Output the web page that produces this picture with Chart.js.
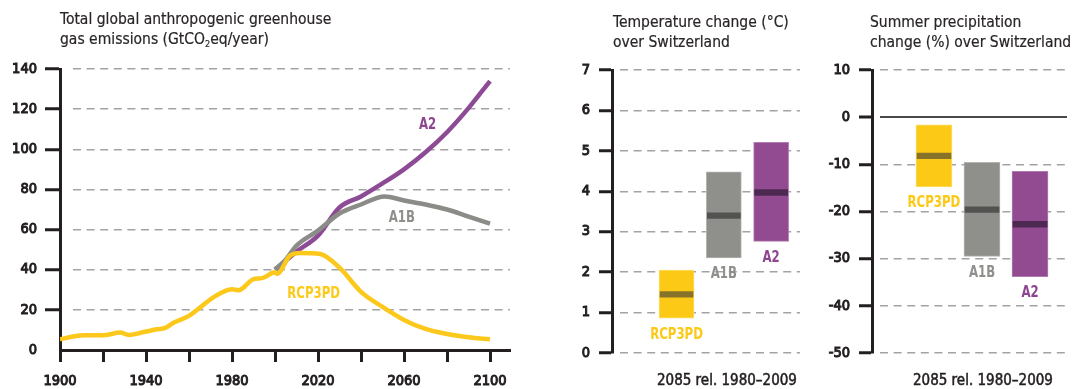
<!DOCTYPE html>
<html>
<head>
<meta charset="utf-8">
<script src="https://cdn.jsdelivr.net/npm/chart.js@4.4.1/dist/chart.umd.min.js"></script>
<style>
  html, body { margin: 0; padding: 0; background: #fff; }
  #wrap { position: relative; width: 1074px; height: 389px; overflow: hidden;
          font-family: "DejaVu Sans Condensed", "DejaVu Sans", sans-serif; color: #2a2627; }
  .panel { position: absolute; top: 0; height: 389px; }
  .title { position: absolute; font-size: 15.5px; line-height: 20px; white-space: nowrap; -webkit-text-stroke: 0.2px #2a2627; }
  .title sub { font-size: 9px; vertical-align: -3px; line-height: 0; }
  .caption { position: absolute; font-size: 15px; line-height: 16px; white-space: nowrap; -webkit-text-stroke: 0.5px #231f20; color: #231f20; }
</style>
</head>
<body>
<div id="wrap">
  <div class="panel" style="left:0;width:520px"><canvas id="emissionsChart"></canvas></div>
  <div class="panel" style="left:540px;width:270px"><canvas id="temperatureChart"></canvas></div>
  <div class="panel" style="left:810px;width:264px"><canvas id="precipChart"></canvas></div>

  <div class="title" style="left:60px;top:9px">Total global anthropogenic greenhouse<br>gas emissions (GtCO<sub>2</sub>eq/year)</div>
  <div class="title" style="left:613px;top:12px">Temperature change (°C)<br>over Switzerland</div>
  <div class="title" style="left:870px;top:12px">Summer precipitation<br>change (%) over Switzerland</div>
  <div class="caption" style="left:657px;top:372px">2085 rel. 1980–2009</div>
  <div class="caption" style="left:913px;top:372px">2085 rel. 1980–2009</div>
</div>

<script>
// emission pathways, GtCO2eq per year
const rcpYears = [1900, 1906, 1912, 1920, 1928, 1932, 1940, 1945, 1949, 1953, 1960, 1965, 1971, 1980, 1983,
  1990, 1994, 2000, 2001, 2007, 2012, 2021, 2030, 2040, 2050, 2060, 2070, 2080, 2090, 2100];
const rcpValues = [5.3, 6.7, 7.3, 7.3, 8.7, 7.5, 9.2, 10.3, 11, 13.7, 17, 21, 26, 30.3, 29.8,
  35.3, 35.8, 38.7, 38, 47, 48.3, 47.8, 41, 29, 21.5, 15, 10.5, 8, 6.3, 5.3];
const a1bYears = [2000, 2005, 2010, 2020, 2030, 2040, 2051, 2060, 2070, 2080, 2090, 2100];
const a1bValues = [40, 45, 52, 59.5, 68, 72.5, 76.5, 74.5, 72.5, 70, 66.5, 63];
const a2Years = [2000, 2010, 2020, 2030, 2040, 2050, 2060, 2070, 2080, 2090, 2100];
const a2Values = [40, 49, 57, 71, 76.5, 83, 90, 98.5, 108.5, 120.5, 134];
const yearTicks = [1900, 1920, 1940, 1960, 1980, 2000, 2020, 2040, 2060, 2080, 2100];

// Swiss projections for 2085 (low, high, median per scenario)
const scenarios = ["RCP3PD", "A1B", "A2"];
const tempLow = [0.86, 2.35, 2.76];
const tempHigh = [2.05, 4.48, 5.21];
const tempMedian = [1.45, 3.4, 3.97];
const precipLow = [-14.8, -29.5, -33.8];
const precipHigh = [-1.6, -9.6, -11.5];
const precipMedian = [-8.2, -19.6, -22.7];

const ink = "#231f20";
const gridGray = "#a3a3a3";
const scenarioColors = ["#fcca16", "#8f908c", "#924b91"];
const edgeColors = ["#fddc6a", "#b3b4b0", "#b17db0"];
const medianColors = ["#87722a", "#525350", "#4d2952"];
const labelColors = ["#fcc917", "#8f908c", "#8e4690"];
const fontFamily = '"DejaVu Sans Condensed", "DejaVu Sans", sans-serif';
const tickFont = { family: fontFamily, size: 14.5 };
const tickStroke = { color: ink, textStrokeColor: ink, textStrokeWidth: 1 };

// line labels placed in data units
const lineLabels = [
  { text: "A2", year: 2071, value: 112, color: labelColors[2] },
  { text: "A1B", year: 2059, value: 65.5, color: labelColors[1] },
  { text: "RCP3PD", year: 2018, value: 28, color: labelColors[0] },
];

function dashFrom(gap) {
  const pattern = [0, gap];
  for (let i = 0; i < 40; i++) pattern.push(8, 5.6);
  return pattern;
}

function toPoints(years, values) {
  return years.map((year, i) => ({ x: year, y: values[i] }));
}

// narrow bold label text
function drawLabel(ctx, text, x, y, color) {
  ctx.save();
  ctx.translate(x, y);
  ctx.scale(0.87, 1);
  ctx.fillStyle = color;
  ctx.fillText(text, 0, 0);
  ctx.restore();
}

const lineLabelPlugin = {
  id: "lineLabels",
  afterDatasetsDraw(chart) {
    const { ctx, scales } = chart;
    ctx.save();
    ctx.font = `bold 15px ${fontFamily}`;
    ctx.textAlign = "center";
    ctx.textBaseline = "middle";
    lineLabels.forEach((label) => {
      drawLabel(ctx, label.text, scales.x.getPixelForValue(label.year), scales.y.getPixelForValue(label.value), label.color);
    });
    ctx.restore();
  },
};

// scenario names under each range bar
const barLabelPlugin = {
  id: "barLabels",
  afterDatasetsDraw(chart, args, opts) {
    const { ctx, scales } = chart;
    ctx.save();
    ctx.font = `bold 15px ${fontFamily}`;
    ctx.textAlign = "center";
    ctx.textBaseline = "top";
    scenarios.forEach((name, i) => {
      drawLabel(ctx, name, scales.x.getPixelForValue(i + 1), scales.y.getPixelForValue(opts.low[i]) + 9, labelColors[i]);
    });
    ctx.restore();
  },
};

function buildEmissionsChart() {
  const lineStyle = (color) => ({
    borderColor: color,
    borderWidth: 4.5,
    pointRadius: 0,
    fill: false,
    cubicInterpolationMode: "monotone",
  });

  return new Chart(document.getElementById("emissionsChart"), {
    type: "line",
    data: {
      datasets: [
        { label: "RCP3PD", data: toPoints(rcpYears, rcpValues), ...lineStyle("#fbc81b") },
        { label: "A1B", data: toPoints(a1bYears, a1bValues), ...lineStyle("#8b8b87") },
        { label: "A2", data: toPoints(a2Years, a2Values), ...lineStyle("#8c4b94") },
      ],
    },
    options: {
      responsive: true,
      maintainAspectRatio: false,
      animation: false,
      layout: { padding: { top: 69, right: 10, left: 0, bottom: 0 } },
      plugins: { legend: { display: false }, tooltip: { enabled: false } },
      scales: {
        x: {
          type: "linear",
          min: 1900,
          max: 2109.3,
          afterBuildTicks: (scale) => { scale.ticks = yearTicks.map((value) => ({ value })); },
          afterFit: (scale) => { scale.height = 39; },
          ticks: {
            autoSkip: false,
            maxRotation: 0,
            padding: 11,
            font: tickFont,
            ...tickStroke,
            callback: (value) => ((value - 1900) % 40 === 0 ? String(value) : ""),
          },
          border: { display: true, color: ink, width: 3 },
          grid: { drawOnChartArea: false, tickLength: 12, tickWidth: 3, tickColor: ink },
        },
        y: {
          min: 0,
          max: 140,
          afterFit: (scale) => { scale.width = 60; },
          ticks: { stepSize: 20, padding: 8, font: tickFont, ...tickStroke },
          border: { display: true, color: ink, width: 3, dash: dashFrom(11) },
          grid: {
            color: (c) => (c.tick && c.tick.value === 0 ? "rgba(0,0,0,0)" : gridGray),
            lineWidth: 1.5,
            tickLength: 15,
            tickWidth: 3,
            tickColor: (c) => (c.tick && c.tick.value === 0 ? "rgba(0,0,0,0)" : ink),
            tickBorderDash: [],
          },
        },
      },
    },
    plugins: [lineLabelPlugin],
  });
}

function buildRangeChart(canvasId, low, high, median, medianHalf, yRange, xRange, axisWidth, rightPad, barWidth) {
  const ranges = scenarios.map((_, i) => ({ x: i + 1, y: [low[i], high[i]] }));
  const medians = scenarios.map((_, i) => ({ x: i + 1, y: [median[i] - medianHalf, median[i] + medianHalf] }));
  const isZero = (c) => c.tick && c.tick.value === 0 && yRange[0] < 0;

  return new Chart(document.getElementById(canvasId), {
    type: "bar",
    data: {
      datasets: [
        { label: "median", data: medians, backgroundColor: medianColors, barThickness: barWidth - 2, order: 0 },
        {
          label: "range",
          data: ranges,
          backgroundColor: scenarioColors,
          borderColor: edgeColors,
          borderWidth: 1,
          borderSkipped: false,
          barThickness: barWidth,
          order: 1,
        },
      ],
    },
    options: {
      responsive: true,
      maintainAspectRatio: false,
      animation: false,
      grouped: false,
      layout: { padding: { top: 70, right: rightPad, left: 0, bottom: 36 } },
      plugins: {
        legend: { display: false },
        tooltip: { enabled: false },
        barLabels: { low },
      },
      scales: {
        x: {
          type: "linear",
          min: xRange[0],
          max: xRange[1],
          offset: false,
          grid: { offset: false },
          display: false,
        },
        y: {
          min: yRange[0],
          max: yRange[1],
          afterFit: (scale) => { scale.width = axisWidth; },
          ticks: { stepSize: yRange[2], padding: 9, font: tickFont, ...tickStroke },
          border: {
            display: true,
            color: ink,
            width: 3,
            dash: (c) => (isZero(c) ? [0, 6, 400, 0] : dashFrom(6)),
          },
          grid: {
            color: (c) => (isZero(c) ? "#4a4a4a" : gridGray),
            lineWidth: (c) => (isZero(c) ? 2 : 1.5),
            tickLength: 13,
            tickWidth: 3,
            tickColor: ink,
            tickBorderDash: [],
          },
        },
      },
    },
    plugins: [barLabelPlugin],
  });
}

document.addEventListener("DOMContentLoaded", () => {
  buildEmissionsChart();
  buildRangeChart("temperatureChart", tempLow, tempHigh, tempMedian, 0.07, [0, 7, 1], [-0.364, 3.61], 72, 10, 35);
  buildRangeChart("precipChart", precipLow, precipHigh, precipMedian, 0.6, [-50, 10, 10], [-0.29, 3.77], 62, 7, 36);
});
</script>
</body>
</html>
